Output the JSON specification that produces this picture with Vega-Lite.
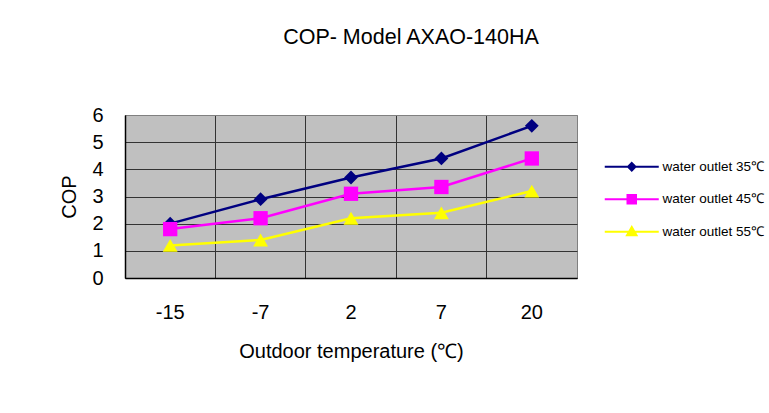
{
  "$schema": "https://vega.github.io/schema/vega-lite/v6.json",
  "width": 452,
  "height": 163,
  "autosize": {"type": "none"},
  "padding": {"left": 125, "top": 115, "right": 192, "bottom": 135},
  "background": "white",
  "title": {
    "text": "COP- Model AXAO-140HA",
    "font": "Liberation Sans",
    "fontSize": 21.5,
    "fontWeight": "normal",
    "color": "#000000",
    "anchor": "middle",
    "dx": 60,
    "baseline": "alphabetic",
    "offset": 40
  },
  "config": {
    "view": {"fill": "#c0c0c0", "stroke": "#808080", "strokeWidth": 1},
    "axis": {
      "labelFont": "Liberation Sans",
      "titleFont": "Liberation Sans",
      "labelColor": "#000000",
      "titleColor": "#000000",
      "titleFontWeight": "normal",
      "ticks": false,
      "domainColor": "#000000",
      "domainWidth": 1.5
    },
    "legend": {"labelFont": "Liberation Sans"}
  },
  "data": {
    "values": [
      {"t": "-15", "series": "water outlet 35℃", "cop": 2.0},
      {"t": "-7", "series": "water outlet 35℃", "cop": 2.9},
      {"t": "2", "series": "water outlet 35℃", "cop": 3.7},
      {"t": "7", "series": "water outlet 35℃", "cop": 4.4},
      {"t": "20", "series": "water outlet 35℃", "cop": 5.6},
      {"t": "-15", "series": "water outlet 45℃", "cop": 1.8},
      {"t": "-7", "series": "water outlet 45℃", "cop": 2.2},
      {"t": "2", "series": "water outlet 45℃", "cop": 3.1},
      {"t": "7", "series": "water outlet 45℃", "cop": 3.35},
      {"t": "20", "series": "water outlet 45℃", "cop": 4.4},
      {"t": "-15", "series": "water outlet 55℃", "cop": 1.2},
      {"t": "-7", "series": "water outlet 55℃", "cop": 1.4},
      {"t": "2", "series": "water outlet 55℃", "cop": 2.2},
      {"t": "7", "series": "water outlet 55℃", "cop": 2.4},
      {"t": "20", "series": "water outlet 55℃", "cop": 3.2}
    ]
  },
  "encoding": {
    "x": {
      "field": "t",
      "type": "ordinal",
      "sort": ["-15", "-7", "2", "7", "20"],
      "scale": {"type": "band", "paddingInner": 0, "paddingOuter": 0},
      "axis": {
        "title": "Outdoor temperature (℃)",
        "titleFontSize": 20,
        "titlePadding": 19,
        "labelFontSize": 20,
        "labelAngle": 0,
        "labelPadding": 24,
        "bandPosition": 0,
        "grid": true,
        "gridColor": "#333333",
        "gridWidth": 1
      }
    },
    "y": {
      "field": "cop",
      "type": "quantitative",
      "scale": {"domain": [0, 6], "nice": false, "zero": true},
      "axis": {
        "title": "COP",
        "titleFontSize": 20,
        "titlePadding": 12,
        "labelFontSize": 20,
        "labelPadding": 22,
        "values": [0, 1, 2, 3, 4, 5, 6],
        "grid": true,
        "gridColor": {"condition": {"test": "datum.value == 6", "value": "#808080"}, "value": "#333333"},
        "gridWidth": 1
      }
    },
    "color": {
      "field": "series",
      "type": "nominal",
      "scale": {
        "domain": ["water outlet 35℃", "water outlet 45℃", "water outlet 55℃"],
        "range": ["#000080", "#ff00ff", "#ffff00"]
      }
    }
  },
  "layer": [
    {
      "mark": {"type": "line", "strokeWidth": 2.5},
      "encoding": {
        "color": {
          "field": "series",
          "type": "nominal",
          "legend": {
            "title": null,
            "orient": "none",
            "legendX": 500,
            "legendY": 45,
            "padding": 0,
            "labelFontSize": 13.5,
            "labelColor": "#000000",
            "labelOffset": 24,
            "symbolSize": 100,
            "symbolStrokeWidth": 2,
            "rowPadding": 15.5,
            "encode": {
              "symbols": {
                "update": {
                  "shape": {"signal": "datum.index == 0 ? 'M-5.4,0H5.4M0,-0.75L0.75,0L0,0.75L-0.75,0Z' : datum.index == 1 ? 'M-5.4,0H5.4M-0.85,-0.85H0.85V0.85H-0.85Z' : 'M-5.4,0H5.4M0,-0.95L0.95,0.7H-0.95Z'"},
                  "fill": {"signal": "scale('color', datum.value)"},
                  "stroke": {"signal": "scale('color', datum.value)"},
                  "strokeWidth": {"value": 2},
                  "opacity": {"value": 1}
                }
              }
            }
          }
        }
      }
    },
    {
      "mark": {"type": "point", "filled": true, "opacity": 1},
      "encoding": {
        "shape": {
          "field": "series",
          "type": "nominal",
          "scale": {"range": ["diamond", "square", "triangle-up"]},
          "legend": null
        },
        "size": {
          "field": "series",
          "type": "nominal",
          "scale": {"range": [190, 220, 230]},
          "legend": null
        },
        "color": {"field": "series", "type": "nominal", "legend": null}
      }
    }
  ]
}
